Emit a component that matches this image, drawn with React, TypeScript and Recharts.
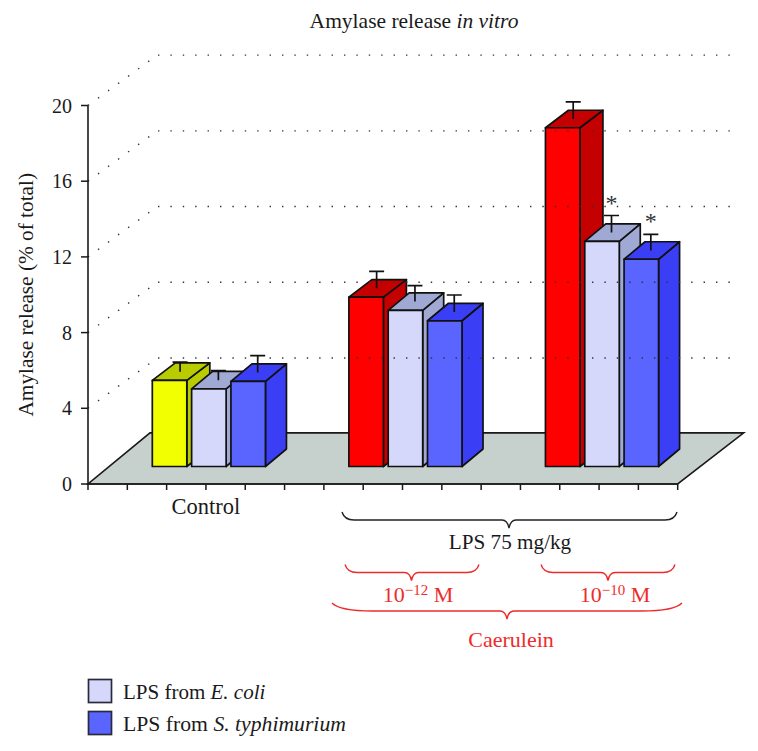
import { Bar, BarChart, ReferenceArea, ReferenceLine, XAxis, YAxis } from "recharts";

const slots = ["a", "control1", "control2", "control3", "b", "c", "low1", "low2", "low3", "d", "e", "high1", "high2", "high3", "f"];
const firstBar = [null, 4.55, null, null, null, null, 8.95, null, null, null, null, 17.9, null, null, null];
const ecoli = [null, null, 4.1, null, null, null, null, 8.25, null, null, null, null, 11.9, null, null];
const typhimurium = [null, null, null, 4.5, null, null, null, null, 7.7, null, null, null, null, 10.95, null];
const errors = [0, 0.5, 0.5, 0.9, 0, 0, 0.9, 0.85, 0.9, 0, 0, 0.9, 0.9, 0.85, 0];
const starred = ["high2", "high3"];
const yTicks = [0, 4, 8, 12, 16, 20];
const xTicks = [0, 1, 2, 3, 4, 5, 6, 7, 8, 9, 10, 11, 12, 13, 14, 15];

const data = slots.map((slot, i) => ({
  slot,
  slotIndex: i,
  firstBar: firstBar[i],
  ecoli: ecoli[i],
  typhimurium: typhimurium[i],
  error: errors[i],
}));

const FONT = "'Liberation Serif', serif";
const INK = "#1a1a1a";
const RED = "#ee2b2b";

// how far the bars stand back from the axis, in px
const LIFT_X = 23;
const LIFT_Y = 17.5;

const makeBox = (key: string, depth: number, colors: (slot: string) => [string, string]) => (props: any) => {
  const value = props.payload[key];
  if (value == null) return null;
  const x = props.x + LIFT_X;
  const y = props.y - LIFT_Y;
  const { width: w, height: h } = props;
  const dy = 17.5;
  const [front, side] = colors(props.payload.slot);
  const errPx = (props.payload.error * h) / value;
  const cx = x + w / 2 + depth / 2 - 1;
  const cy = y - dy / 2;
  const isStarred = starred.includes(props.payload.slot);
  return (
    <g stroke="#111" strokeWidth={1.7} strokeLinejoin="round">
      <path d={`M${x + w},${y} l${depth},${-dy} v${h} l${-depth},${dy} z`} fill={side} />
      <path d={`M${x},${y} l${depth},${-dy} h${w} l${-depth},${dy} z`} fill={side} />
      <rect x={x} y={y} width={w} height={h} fill={front} />
      <path d={`M${cx},${cy} v${-errPx} m-7.5,0 h15`} fill="none" />
      {isStarred && (
        <text x={cx} y={cy - errPx - 5} textAnchor="middle" stroke="none" fill="#333" fontFamily={FONT} fontSize={24}>
          *
        </text>
      )}
    </g>
  );
};

const firstBox = makeBox("firstBar", 23, (slot) => (slot === "control1" ? ["#f2ff00", "#b9cc00"] : ["#ff0000", "#c40000"]));
const ecoliBox = makeBox("ecoli", 21, () => ["#d6d8fb", "#9fa9d4"]);
const typhimuriumBox = makeBox("typhimurium", 21, () => ["#5a64ff", "#3a3ff5"]);

const Floor = (props: any) => {
  const { x, y, width, height } = props;
  const bottom = y + height;
  return (
    <path
      d={`M${x},${bottom} h${width} L${x + width + 66},${y} H${x + 62} z`}
      fill="#c6d0cd"
      stroke={INK}
      strokeWidth={1.6}
    />
  );
};

const brace = (x1: number, x2: number, tip: number, y: number, color: string, r = 12) => (
  <path
    d={`M${x1},${y - 8} C${x1 + r * 0.15},${y - 2} ${x1 + r * 0.5},${y} ${x1 + r},${y} H${tip - 7} C${tip - 3},${y} ${tip - 1},${y + 3} ${tip},${y + 8} C${tip + 1},${y + 3} ${tip + 3},${y} ${tip + 7},${y} H${x2 - r} C${x2 - r * 0.5},${y} ${x2 - r * 0.15},${y - 2} ${x2},${y - 8}`}
    fill="none"
    stroke={color}
    strokeWidth={1.4}
  />
);

export default function App() {
  return (
    <div style={{ position: "absolute", left: 0, top: 0, width: 758, height: 751, background: "#fff" }}>
      <BarChart
        width={758}
        height={751}
        data={data}
        margin={{ top: 105.5, right: 80.3, left: 0, bottom: 227 }}
        barSize={34.5}
        style={{ fontFamily: FONT }}
      >
        {yTicks.slice(1).map((v) => (
          <ReferenceLine
            key={`side${v}`}
            xAxisId="frame"
            ifOverflow="visible"
            segment={[{ x: 0, y: v }, { x: 1.76, y: v + 2.66 }]}
            stroke="#333"
            strokeWidth={1.4}
            strokeDasharray="1.4 11"
          />
        ))}
        {yTicks.slice(1).map((v) => (
          <ReferenceLine
            key={`back${v}`}
            xAxisId="frame"
            ifOverflow="visible"
            segment={[{ x: 1.78, y: v + 2.66 }, { x: 16.5, y: v + 2.66 }]}
            stroke="#333"
            strokeWidth={1.4}
            strokeDasharray="1.4 11"
          />
        ))}
        <ReferenceArea xAxisId="frame" x1={0} x2={15} y1={0} y2={2.7} ifOverflow="visible" shape={Floor} />
        <XAxis dataKey="slot" hide height={0} />
        <XAxis
          xAxisId="frame"
          dataKey="slotIndex"
          type="number"
          domain={[0, 15]}
          allowDataOverflow
          ticks={xTicks}
          interval={0}
          height={40}
          tickSize={6}
          tickMargin={8}
          tickFormatter={(v: number) => (v === 3 ? "Control" : "")}
          tick={{ fill: INK, fontSize: 22.5, fontFamily: FONT }}
          axisLine={{ stroke: INK, strokeWidth: 1.6 }}
          tickLine={{ stroke: INK, strokeWidth: 1.5 }}
        />
        <YAxis
          width={88}
          domain={[0, 20]}
          ticks={yTicks}
          interval={0}
          tickSize={7}
          tickMargin={9}
          tick={{ fill: INK, fontSize: 20, fontFamily: FONT }}
          axisLine={{ stroke: INK, strokeWidth: 1.6 }}
          tickLine={{ stroke: INK, strokeWidth: 1.5 }}
          label={{ value: "Amylase release (% of total)", angle: -90, position: "insideLeft", dx: 20, dy: 0, style: { textAnchor: "middle", fill: INK, fontSize: 21.3, fontFamily: FONT } }}
        />
        <Bar dataKey="firstBar" stackId="all" isAnimationActive={false} shape={firstBox} />
        <Bar dataKey="ecoli" stackId="all" isAnimationActive={false} shape={ecoliBox} />
        <Bar dataKey="typhimurium" stackId="all" isAnimationActive={false} shape={typhimuriumBox} />

        <text x={414} y={28} textAnchor="middle" fontFamily={FONT} fontSize={21.5} fill={INK}>
          Amylase release <tspan fontStyle="italic">in vitro</tspan>
        </text>

        {brace(342, 677, 509, 520, "#222")}
        <text x={510} y={549} textAnchor="middle" fontFamily={FONT} fontSize={21.2} fill={INK}>
          LPS 75 mg/kg
        </text>

        {brace(345, 479, 411.5, 572.5, RED)}
        <text x={418} y={602} textAnchor="middle" fontFamily={FONT} fontSize={22} fill={RED}>
          10<tspan dy={-7} fontSize={15}>−12</tspan><tspan dy={7}> M</tspan>
        </text>
        {brace(541, 675, 608, 572.5, RED)}
        <text x={615} y={602} textAnchor="middle" fontFamily={FONT} fontSize={22} fill={RED}>
          10<tspan dy={-7} fontSize={15}>−10</tspan><tspan dy={7}> M</tspan>
        </text>
        {brace(332, 682, 507, 611, RED, 40)}
        <text x={511} y={647} textAnchor="middle" fontFamily={FONT} fontSize={22} fill={RED}>
          Caerulein
        </text>

        <rect x={88.5} y={679.5} width={23} height={23} fill="#d6d8fb" stroke="#2a2a3a" strokeWidth={1.7} />
        <text x={123} y={699} fontFamily={FONT} fontSize={21} fill={INK}>
          LPS from <tspan fontStyle="italic">E. coli</tspan>
        </text>
        <rect x={88.5} y={711.5} width={23} height={23} fill="#5a64ff" stroke="#2a2a3a" strokeWidth={1.7} />
        <text x={123} y={731} fontFamily={FONT} fontSize={21.7} fill={INK}>
          LPS from <tspan fontStyle="italic">S. typhimurium</tspan>
        </text>
      </BarChart>
    </div>
  );
}
